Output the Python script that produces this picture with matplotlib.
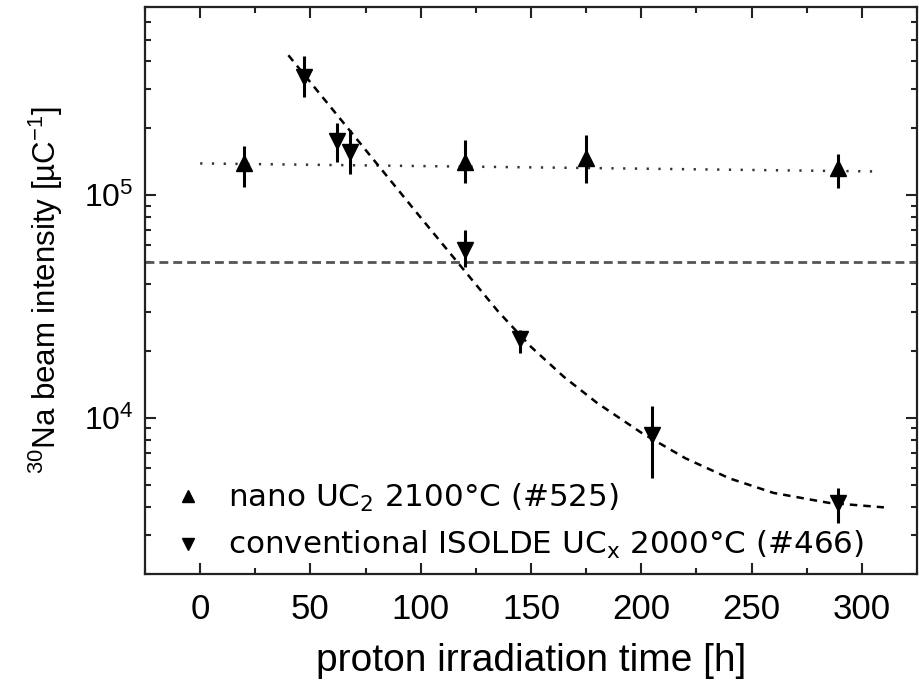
import matplotlib
matplotlib.use("Agg")
import matplotlib.pyplot as plt
from matplotlib.ticker import LogLocator, MultipleLocator, NullFormatter

# nano UC2 2100 C (#525)
nano_t = [20, 120, 175, 289]
nano_y = [1.39e5, 1.41e5, 1.47e5, 1.32e5]
nano_lo = [1.09e5, 1.13e5, 1.13e5, 1.075e5]
nano_hi = [1.67e5, 1.77e5, 1.86e5, 1.53e5]

# conventional ISOLDE UCx 2000 C (#466)
conv_t = [47, 62, 68, 120, 145, 205, 289]
conv_y = [3.38e5, 1.76e5, 1.56e5, 5.67e4, 2.26e4, 8.4e3, 4.16e3]
conv_lo = [2.75e5, 1.41e5, 1.25e5, 4.76e4, 1.97e4, 5.38e3, 3.38e3]
conv_hi = [4.2e5, 2.12e5, 1.96e5, 6.97e4, 2.48e4, 1.13e4, 4.85e3]

# fits
nano_fit_t = [0, 305]
nano_fit_y = [1.39e5, 1.28e5]
conv_fit_t = [40, 60, 80, 100, 120, 135, 150, 165, 180, 200, 220, 240, 260, 285, 310]
conv_fit_y = [4.25e5, 2.43e5, 1.39e5, 7.94e4, 4.57e4, 3.02e4, 2.09e4, 1.53e4,
              1.17e4, 8.61e3, 6.61e3, 5.37e3, 4.62e3, 4.17e3, 3.98e3]
level = 5.0e4

plt.rcParams['font.family'] = ['Liberation Sans Narrow', 'Liberation Sans', 'DejaVu Sans']
plt.rcParams['mathtext.default'] = 'regular'

fig = plt.figure(figsize=(9.19, 6.82), dpi=100)
ax = fig.add_axes([0.1578, 0.1584, 0.8400, 0.8314])

ax.axhline(level, color='#555555', lw=2.0, dashes=(3.2, 1.8))
ax.plot(nano_fit_t, nano_fit_y, color='#333333', lw=1.8, dashes=(0.9, 3.8))
ax.plot(conv_fit_t, conv_fit_y, color='black', lw=1.8, dashes=(3.0, 2.4))

def err(y, lo, hi):
    return [[a - b for a, b in zip(y, lo)], [b - a for a, b in zip(y, hi)]]

ax.errorbar(nano_t, nano_y, yerr=err(nano_y, nano_lo, nano_hi), fmt='none',
            ecolor='black', elinewidth=2.2, capsize=0)
ax.errorbar(conv_t, conv_y, yerr=err(conv_y, conv_lo, conv_hi), fmt='none',
            ecolor='black', elinewidth=2.2, capsize=0)
ax.plot(nano_t, nano_y, '^', color='black', ms=11, ls='none',
        label=r'nano UC$_2$ 2100°C (#525)')
ax.plot(conv_t, conv_y, 'v', color='black', ms=11, ls='none',
        label=r'conventional ISOLDE UC$_x$ 2000°C (#466)')

ax.set_yscale('log')
ax.set_xlim(-25, 325)
ax.set_ylim(2000, 7e5)
ax.xaxis.set_major_locator(MultipleLocator(50))
ax.xaxis.set_minor_locator(MultipleLocator(25))
ax.yaxis.set_major_locator(LogLocator(base=10, numticks=10))
ax.yaxis.set_minor_locator(LogLocator(base=10, subs=range(2, 10), numticks=20))
ax.yaxis.set_minor_formatter(NullFormatter())

ax.tick_params(which='both', direction='in', top=True, right=True, width=1.5, color='#222222')
ax.tick_params(which='major', length=8)
ax.tick_params(which='minor', length=4)
ax.tick_params(axis='x', labelsize=25, pad=14)
ax.tick_params(axis='y', labelsize=23, pad=8)
for s in ax.spines.values():
    s.set_linewidth(1.6)
    s.set_color('#222222')

ax.set_xlabel('proton irradiation time [h]', fontsize=28, labelpad=12)
ax.set_ylabel(r'$^{30}$Na beam intensity [µC$^{-1}$]', fontsize=22.5, labelpad=14)

ax.legend(loc='lower left', bbox_to_anchor=(0.040, 0.022), frameon=False,
          prop={'family': 'DejaVu Sans', 'size': 22.3}, borderpad=0, borderaxespad=0,
          handlelength=0.8, handletextpad=0.87, labelspacing=0.5, markerscale=0.8,
          numpoints=1)

fig.savefig('out.png', dpi=100)
